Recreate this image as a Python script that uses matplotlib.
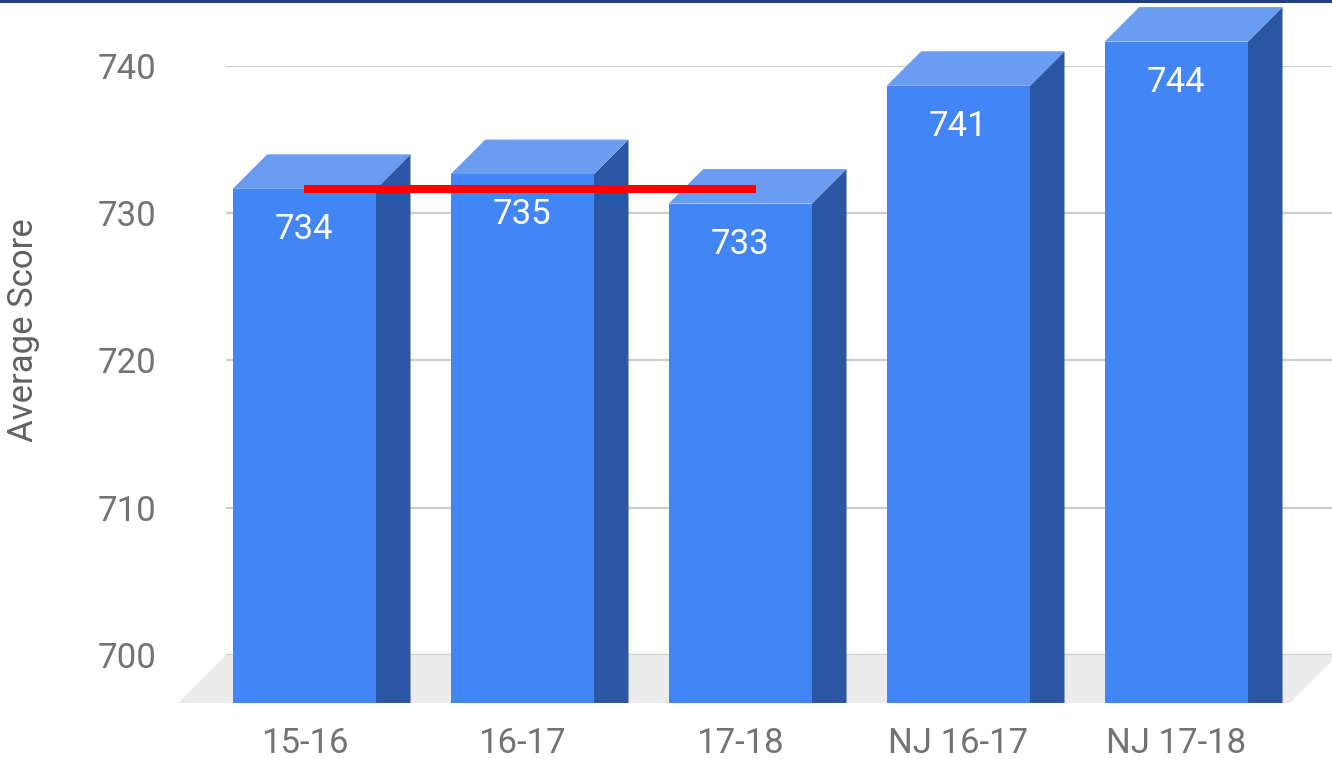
import matplotlib
matplotlib.use("Agg")
import matplotlib.pyplot as plt
from matplotlib.patches import Polygon, Rectangle

plt.rcParams['font.family'] = ['Roboto', 'DejaVu Sans']

# ---- data ----
categories = ["15-16", "16-17", "17-18", "NJ 16-17", "NJ 17-18"]
scores = [734, 735, 733, 741, 744]
y_ticks = [700, 710, 720, 730, 740]
y_label = "Average Score"
ref_line_value = 734          # red reference line at 15-16 level
ref_line_span = (0, 2.07)     # from 15-16 to just past 17-18

# ---- styling ----
FRONT = "#4285f4"
SIDE = "#2a56a3"
TOP = "#6a9cf1"
FLOOR = "#ebebeb"
GRID = "#cccccc"
TXT = "#737373"

W, H, DPI = 1332, 759, 100
fig = plt.figure(figsize=(W / DPI, H / DPI), dpi=DPI)
ax = fig.add_axes([226 / W, (H - 655) / H, 1106 / W, 589 / H])

xmin, xmax = -0.3594, -0.3594 + 1106 / 218
ymin, ymax = 700, 740
ax.set_xlim(xmin, xmax)
ax.set_ylim(ymin, ymax)

px_x = 1106 / (xmax - xmin)   # pixels per x unit
px_y = 589 / (ymax - ymin)    # pixels per y unit

bar_w = 143.3 / px_x
dx, dy = 34.5 / px_x, 34.5 / px_y          # bar depth offsets
fdx, fdy = 48 / px_x, 48 / px_y            # floor depth offsets

# floor
floor_front_y = ymin - fdy
fl, fr = xmin - fdx, xmin + 1064 / px_x
ax.add_patch(Polygon([(fl, floor_front_y), (fr, floor_front_y),
                      (fr + fdx, ymin), (fl + fdx, ymin)],
                     closed=True, facecolor=FLOOR, edgecolor='none',
                     clip_on=False, zorder=1))

ax.set_yticks(y_ticks)
ax.yaxis.grid(True, color=GRID, linewidth=1.6, zorder=2)
ax.set_axisbelow(True)

for i, v in enumerate(scores):
    xl, xr = i - bar_w / 2, i + bar_w / 2
    bot = floor_front_y
    front = Polygon([(xl, bot), (xr, bot), (xr, v - dy), (xl, v - dy)],
                    closed=True, facecolor=FRONT, edgecolor='none',
                    clip_on=False, zorder=4)
    side = Polygon([(xr, bot), (xr, v - dy), (xr + dx, v), (xr + dx, bot)],
                   closed=True, facecolor=SIDE, edgecolor='none',
                   clip_on=False, zorder=3)
    top = Polygon([(xl, v - dy), (xl + dx, v), (xr + dx, v), (xr, v - dy)],
                  closed=True, facecolor=TOP, edgecolor='none',
                  clip_on=False, zorder=3)
    for p in (side, top, front):
        ax.add_patch(p)
    ax.text(i, v - dy - 37 / px_y, str(v), color='white', fontsize=25,
            ha='center', va='center_baseline', zorder=6, clip_on=False)

# red reference line
ax.plot(list(ref_line_span), [ref_line_value - dy] * 2, color='#ff0000',
        linewidth=5.8, solid_capstyle='butt', zorder=7, clip_on=False)

ax.set_xticks(range(len(categories)))
ax.set_xticklabels(categories)
ax.tick_params(axis='x', length=0, pad=52, labelsize=25, labelcolor=TXT)
ax.tick_params(axis='y', length=0, pad=50, labelsize=25, labelcolor=TXT)

for s in ax.spines.values():
    s.set_visible(False)
ax.patch.set_visible(False)

fig.text(24 / W, 1 - 330 / H, y_label, rotation=90, ha='center', va='center',
         fontsize=25, color="#616161")

# top border
fig.add_artist(Rectangle((0, 1 - 2.5 / H), 1, 2.5 / H, transform=fig.transFigure,
                         facecolor="#1f3f80", edgecolor='none'))

fig.savefig("out.png", dpi=DPI)
